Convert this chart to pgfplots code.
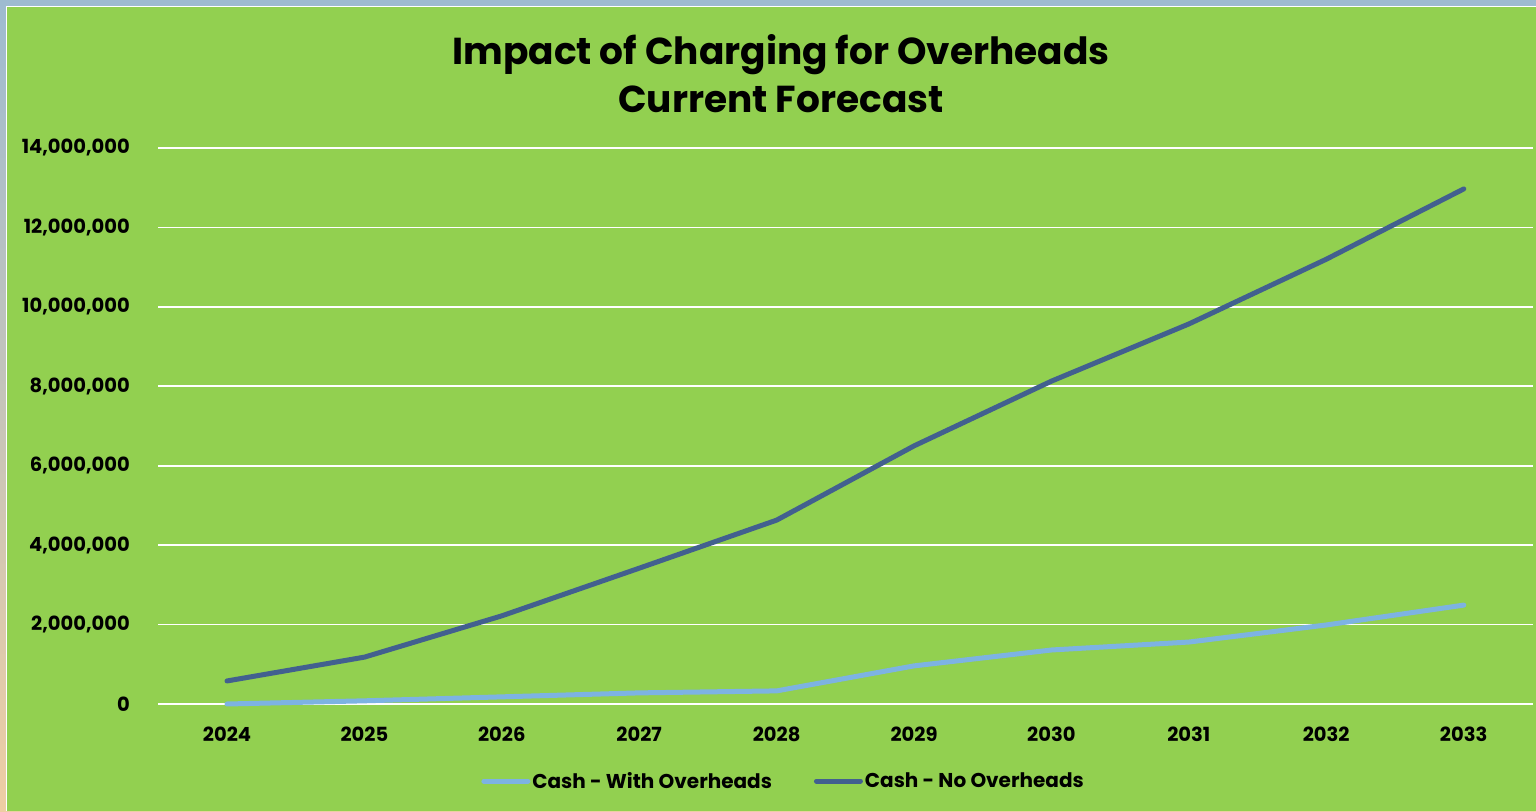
\documentclass[border=0pt]{standalone}
\usepackage{fontspec}
\setmainfont{Poppins}
\usepackage{pgfplots}
\pgfplotsset{compat=1.18}
\definecolor{bggreen}{HTML}{92D050}
\definecolor{lightline}{HTML}{7DB3E2}
\definecolor{darkline}{HTML}{42608F}
\definecolor{frameblue}{HTML}{9EBBD0}
\definecolor{frameorange}{HTML}{EECDA3}

\begin{document}
\begin{tikzpicture}[x=1pt,y=1pt]
% frame and chart area (1 unit = 1 pixel of the reference)
\useasboundingbox (0,0) rectangle (1536,811);
\shade[top color=frameblue, bottom color=frameorange] (0,0) rectangle (1536,811);
\fill[white] (6,0) rectangle (1536,805);
\fill[bggreen] (7,0) rectangle (1536,804);
\node[font=\bfseries\fontsize{37.5}{48}\selectfont, align=center] at (781,737)
  {Impact of Charging for Overheads\\Current Forecast};
\begin{axis}[%
  at={(158.3pt,107pt)}, anchor=south west,
  scale only axis, width=1374.2pt, height=556pt,
  xmin=2023.5, xmax=2033.5, ymin=0, ymax=14000000,
  axis line style={draw=none},
  clip=false,
  xtick={2024,...,2033},
  xticklabels={2024,2025,2026,2027,2028,2029,2030,2031,2032,2033},
  ytick={0,2000000,...,14000000},
  ymajorgrids, major grid style={white, line width=1.6pt},
  major tick length=0pt,
  tick label style={font=\bfseries\fontsize{19.5}{22}\selectfont},
  xticklabel style={yshift=-19pt},
  yticklabel style={xshift=-25pt},
  scaled y ticks=false,
  /pgf/number format/.cd, fixed, precision=0, 1000 sep={,}, assume math mode=true,
  /pgfplots/.cd,
  legend columns=2,
  legend style={at={(0.455,-0.1385)}, anchor=center, draw=none, fill=none,
    font=\fontsize{20}{24}\selectfont\bfseries,
    /tikz/every even column/.append style={column sep=40pt}},
  legend image code/.code={\draw[#1] (0pt,0pt) -- (44pt,0pt);},
]
\addplot[lightline, line width=5pt, line cap=round] coordinates {
  (2024,0) (2025,80000) (2026,180000) (2027,280000) (2028,330000)
  (2029,960000) (2030,1360000) (2031,1560000) (2032,1990000) (2033,2490000)
};
\addlegendentry{Cash - With Overheads}
\addplot[darkline, line width=5pt, line cap=round] coordinates {
  (2024,580000) (2025,1180000) (2026,2220000) (2027,3420000) (2028,4630000)
  (2029,6500000) (2030,8130000) (2031,9570000) (2032,11200000) (2033,12970000)
};
\addlegendentry{Cash - No Overheads}
\end{axis}
\end{tikzpicture}
\end{document}
